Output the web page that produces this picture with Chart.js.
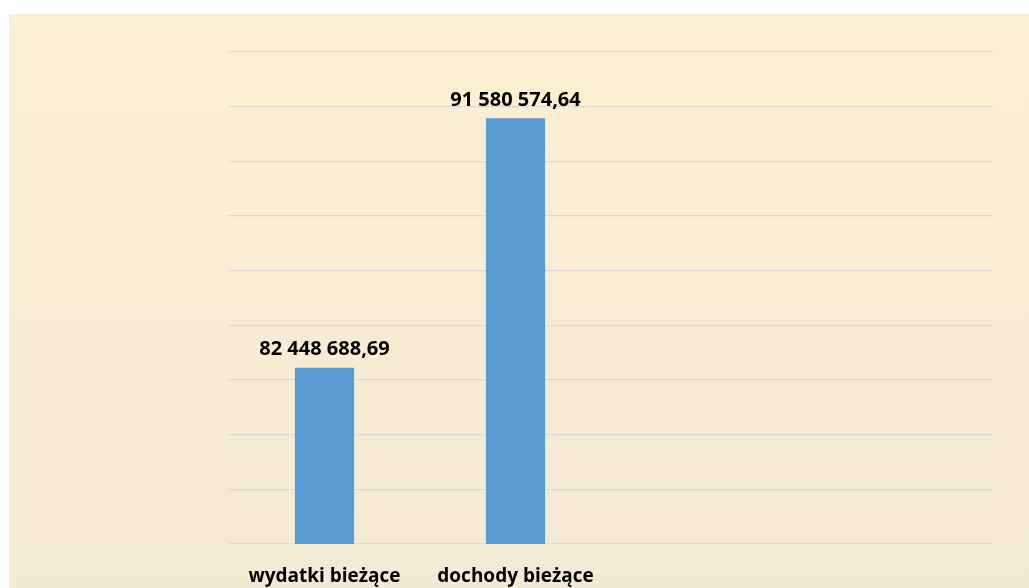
<!DOCTYPE html>
<html><head><meta charset="utf-8">
<script src="https://cdn.jsdelivr.net/npm/chart.js@4/dist/chart.umd.min.js"></script>
<style>html,body{margin:0;padding:0;background:#fff;}#wrap{width:1029px;height:588px;position:relative;}</style>
</head><body><div id="wrap"><canvas id="c" width="1029" height="588"></canvas></div>
<script>
const categories = ["wydatki bieżące", "dochody bieżące", "", ""];
const values = [82448688.69, 91580574.64, null, null];
const valueLabels = ["82 448 688,69", "91 580 574,64", "", ""];
const yMin = 76000000, yMax = 94000000, yStep = 2000000;

const bgPlugin = {
  id: 'bg',
  beforeDraw(chart) {
    const ctx = chart.ctx;
    const g = ctx.createLinearGradient(0, 14, 0, 588);
    g.addColorStop(0, '#FDEFD1');
    g.addColorStop(1, '#F3EAD5');
    ctx.save();
    ctx.fillStyle = g;
    ctx.fillRect(9, 14, 1020, 574);
    ctx.restore();
  }
};
const labelPlugin = {
  id: 'vals',
  afterDatasetsDraw(chart) {
    const ctx = chart.ctx;
    const meta = chart.getDatasetMeta(0);
    ctx.save();
    ctx.font = 'bold 20px "Open Sans"';
    ctx.fillStyle = '#000';
    ctx.textAlign = 'center';
    ctx.textBaseline = 'middle';
    meta.data.forEach((bar, i) => {
      if (values[i] == null) return;
      ctx.fillText(valueLabels[i], bar.x, bar.y - 18);
    });
    ctx.restore();
  }
};

new Chart(document.getElementById('c'), {
  type: 'bar',
  data: {
    labels: categories,
    datasets: [{
      data: values,
      backgroundColor: '#5B9BD5',
      categoryPercentage: 1,
      barPercentage: 0.31
    }]
  },
  options: {
    responsive: false,
    animation: false,
    layout: { padding: { left: 229, right: 36, top: 52, bottom: 0 } },
    plugins: { legend: { display: false }, tooltip: { enabled: false } },
    scales: {
      x: {
        grid: { display: false, drawTicks: false },
        border: { display: false },
        ticks: { color: '#000', font: { family: 'Open Sans', weight: 'bold', size: 19, lineHeight: 1.2 }, padding: 21.6, maxRotation: 0 },
        afterFit(s) { s.height = 44; }
      },
      y: {
        min: yMin, max: yMax,
        ticks: { display: false, stepSize: yStep },
        grid: { color: '#D9D9D9', lineWidth: 1.2, drawTicks: false },
        border: { display: false }
      }
    }
  },
  plugins: [bgPlugin, labelPlugin]
});
</script></body></html>
